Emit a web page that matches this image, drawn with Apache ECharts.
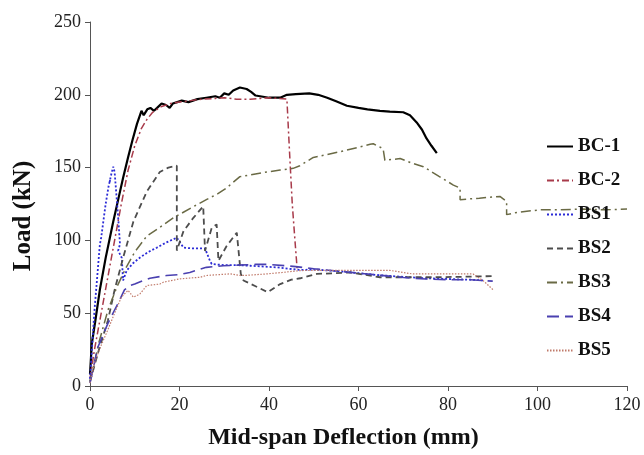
<!DOCTYPE html>
<html>
<head>
<meta charset="utf-8">
<script src="https://cdn.jsdelivr.net/npm/echarts@6/dist/echarts.min.js"></script>
<style>
html,body{margin:0;padding:0;background:#fff;}
#chart{width:644px;height:455px;}
</style>
</head>
<body>
<div id="chart"></div>
<script>
// Data (x: mid-span deflection mm, y: load kN)
const seriesNames = ['BC-1','BC-2','BS1','BS2','BS3','BS4','BS5'];
const xTicks = [0,20,40,60,80,100,120];
const yTicks = [0,50,100,150,200,250];

const bc1 = [[0,8],[0.4,29],[1.2,45],[2.2,66],[3.5,88],[5.2,113],[6.3,128],[7.4,143],[8.5,157],[9.5,169],[10.5,180],[11.5,189],[12,186],[12.8,190],[13.5,191],[14.3,189],[15,191],[16,194],[17,193],[17.8,191],[18.5,194],[19.5,195],[20.5,196],[22,195],[24,197],[26,198],[28,199],[29,198],[30,201],[31,200],[32,203],[33.5,205],[35,204],[36,202],[37,199.5],[38,199],[40,198],[42.5,198],[44,200],[46,200.5],[49,201],[51,200],[53,198],[55,195.5],[57.4,192.5],[60,191],[62,190],[64.8,189],[67,188.5],[70,188],[71.5,186],[73,181],[74.2,176],[75.2,170],[76.3,165],[77.5,160]];
const bc2 = [[0,5],[1,25],[2.5,50],[4,75],[5.5,100],[7,125],[8.5,148],[10,165],[11.5,177],[12.7,183],[14,188],[15,190],[16,192],[18,194],[20,195],[22.5,196],[25,197],[28,197.5],[30,198],[32.8,197],[35.8,197],[38,197.5],[40,198],[42,197.5],[44,197],[44.6,160],[45.2,125],[45.8,100],[46.3,80]];
const bs1 = [[0,5],[1,52],[2.2,97],[2.5,102],[3.5,125],[4.2,138],[4.5,141.5],[4.3,139],[4.8,146],[5.2,150.6],[5.5,147],[6.3,115.5],[6.7,97.4],[6.3,93],[7.1,88],[7.4,72.5],[8.2,79.3],[9.5,84],[11.2,88.3],[13,92],[14.9,95],[17,98.5],[19.4,101.9],[19.8,101],[20.9,95],[23,94.5],[25.7,94.5],[26.8,86],[27.2,83.8],[30,83],[33.5,83],[35.8,82.6],[41.7,81.5],[46.9,79.7],[50,80],[55,79],[60,77.5],[65,76],[70,75],[75,74],[80,73.5],[85,73],[88,72.5]];
const bs2 = [[0,3],[2,25],[4,45],[5.5,66],[7.4,88],[9.7,113],[12.7,133.6],[15.6,147],[17.5,150],[19.4,151.3],[19.4,93],[20.9,106.4],[23.1,115.5],[25.3,123.4],[25.7,92.8],[27.2,108.7],[28.3,111],[28.7,86],[30.5,96],[32.8,105.3],[33.7,77],[34.3,72.5],[37,68.5],[39.7,64.5],[42.5,70],[45,73],[47,74],[50.7,77],[55,77.5],[58.1,78],[64.8,74.7],[70,74.7],[76.7,74.7],[83,75],[90,75.5]];
const bs3 = [[0,3],[2,30],[4,52],[6,68],[8,81],[10,92],[12.7,103],[15.6,109],[18.6,115.5],[20.1,118],[23,123],[26,128],[28.5,132],[30.5,136],[33.5,143.8],[35.8,145],[39.5,147],[42.5,148.3],[45.4,149.5],[46.9,151.3],[49.9,157],[53,159],[57.4,162],[60,164],[62.6,166],[63.3,166.4],[65.5,163],[65.9,155],[69.3,156.2],[72,153],[74.5,150.6],[78,144],[81.2,138],[82.7,136],[82.7,128],[87,129],[91.6,130.2],[93.1,126.8],[93.1,117.7],[95,119],[97.6,120],[100.6,121],[104,121],[110,121.5],[115,121],[120,121.5]];
const bs4 = [[0,2],[1.8,27],[4,43],[6.3,57],[7.7,66],[8.9,69],[10,70],[11.9,72.5],[13.4,74],[17.1,75.9],[20,76.5],[22.3,78],[26,81.5],[29.8,82.6],[33,83],[37,83.5],[40,83.5],[44,82.5],[46,82],[50,80.5],[55,79],[60,77.5],[65,76],[70,74.5],[75,73.5],[80,73],[85,73],[90,72]];
const bs5 = [[0,2],[1,16],[2.5,28],[4,38.7],[5.5,50],[7,61],[8.5,65.7],[9.7,61],[10.7,62.5],[11.2,63.4],[12.7,69],[15.6,70],[16.4,71.3],[20.1,73.6],[24.6,74.7],[26,75.9],[31.3,77],[33.5,76],[35,76],[39.5,77],[43,78],[47,79.3],[53.6,79.4],[60,79.4],[67,79.4],[72,77],[78,77],[85.6,77],[88,72],[90.1,66]];

const seriesData = [bc1, bc2, bs1, bs2, bs3, bs4, bs5];
const styles = [
  {color:'#000000', width:2.2, type:'solid'},
  {color:'#a83a4a', width:1.5, type:[7,3,2,3]},
  {color:'#2b2bd6', width:1.8, type:[2,2]},
  {color:'#4d4d4d', width:1.8, type:[6,4]},
  {color:'#6a6a45', width:1.5, type:[10,4,2,4]},
  {color:'#4a40b0', width:1.6, type:[12,6]},
  {color:'#c07a6a', width:1.2, type:[1.5,1.5]}
];

const FONT = '"Liberation Serif", "Times New Roman", serif';
const chart = echarts.init(document.getElementById('chart'), null, {renderer:'canvas'});
chart.setOption({
  backgroundColor:'#ffffff',
  animation:false,
  grid:{left:90, right:17, top:22, bottom:65, containLabel:false},
  legend:{
    orient:'vertical', left:541, top:132,
    itemWidth:26, itemHeight:18, itemGap:15,
    itemStyle:{opacity:0},
    textStyle:{fontFamily:FONT, fontSize:19, fontWeight:'bold', color:'#111'},
    data: seriesNames
  },
  xAxis:{
    type:'value', min:0, max:120, interval:20,
    name:'Mid-span Deflection (mm)', nameLocation:'middle', nameGap:40,
    nameTextStyle:{fontFamily:FONT, fontSize:24, fontWeight:'bold', color:'#111', padding:[0,30,0,0]},
    axisLine:{show:true, lineStyle:{color:'#555', width:1}},
    axisTick:{show:true, length:5, lineStyle:{color:'#555'}},
    axisLabel:{fontFamily:FONT, fontSize:18, color:'#222', margin:10, formatter:v=>xTicks.includes(v)?String(v):''},
    splitLine:{show:false}
  },
  yAxis:{
    type:'value', min:0, max:250, interval:50,
    name:'Load (kN)', nameLocation:'middle', nameGap:54,
    nameTextStyle:{fontFamily:FONT, fontSize:25, fontWeight:'bold', color:'#111', padding:[0,0,0,-24]},
    axisLine:{show:true, lineStyle:{color:'#555', width:1}},
    axisTick:{show:true, length:5, lineStyle:{color:'#555'}},
    axisLabel:{fontFamily:FONT, fontSize:18, color:'#222', margin:9, formatter:v=>yTicks.includes(v)?String(v):''},
    splitLine:{show:false}
  },
  series: seriesNames.map((n,i)=>({
    name:n, type:'line', data:seriesData[i], symbol:'none', showSymbol:false,
    smooth:false, clip:false,
    lineStyle:{color:styles[i].color, width:styles[i].width, type:styles[i].type},
    itemStyle:{color:styles[i].color}
  }))
});
</script>
</body>
</html>
